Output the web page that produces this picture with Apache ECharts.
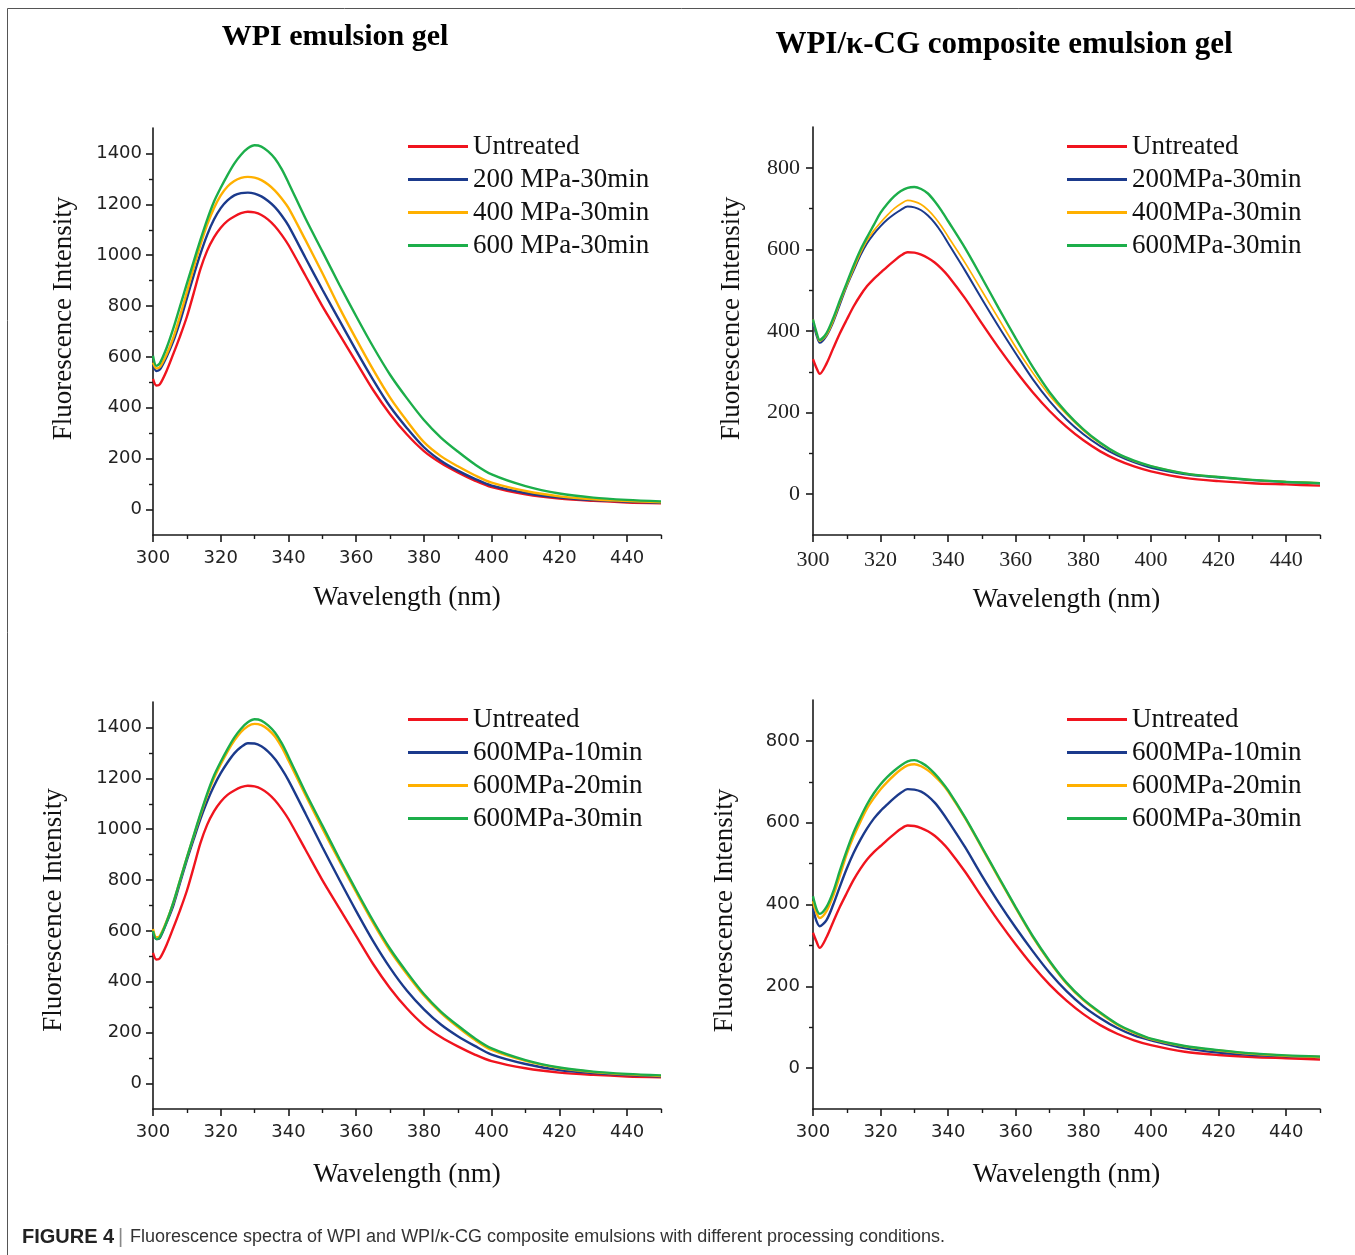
<!DOCTYPE html>
<html>
<head>
<meta charset="utf-8">
<script src="https://cdn.jsdelivr.net/npm/echarts@6/dist/echarts.min.js"></script>
<style>html,body{margin:0;padding:0;background:#fff}#c{width:1355px;height:1255px}</style>
</head>
<body>
<div id="c"></div>
<script>
// ---------------- data ----------------
const wavelength = [300,301,302,304,306,308,310,312,314,316,318,320,322,324,326,328,330,332,334,336,338,340,345,350,355,360,365,370,375,380,385,390,395,400,410,420,430,440,450];

// WPI emulsion gel, pressure series (top left)
const wpiUntreated = [514,488,492,545,612,682,758,850,945,1018,1070,1108,1135,1152,1165,1171,1168,1158,1140,1114,1080,1040,920,800,690,580,470,375,295,230,183,146,114,88,60,43,34,28,25];
const wpi200_30 = [570,545,550,600,662,740,830,920,1005,1080,1140,1185,1215,1235,1244,1246,1242,1231,1213,1189,1156,1116,990,865,745,625,510,405,320,245,192,153,121,94,65,47,37,31,27];
const wpi400_30 = [578,555,560,610,676,762,855,950,1040,1120,1185,1235,1270,1292,1304,1308,1305,1295,1278,1254,1223,1186,1060,930,795,670,550,440,348,265,210,170,135,106,73,52,40,33,29];
const wpi600_30 = [605,565,575,635,712,800,888,975,1060,1140,1210,1265,1315,1360,1395,1420,1432,1427,1408,1380,1338,1285,1145,1015,885,760,640,530,437,352,283,228,178,138,92,63,47,38,32];

// WPI emulsion gel, time series (bottom left)
const wpiUntreatedT = [514,488,492,545,612,682,758,850,945,1018,1070,1108,1135,1152,1165,1171,1168,1158,1140,1114,1080,1040,920,800,690,580,470,375,295,230,183,146,114,88,60,43,34,28,25];
const wpi600_10 = [592,568,572,632,700,790,878,960,1040,1110,1170,1220,1262,1298,1323,1338,1337,1326,1305,1276,1237,1192,1062,930,802,678,560,455,365,292,232,186,148,114,77,53,41,33,28];
const wpi600_20 = [608,575,580,638,710,800,888,972,1055,1133,1200,1255,1305,1348,1382,1405,1414,1409,1392,1364,1322,1270,1135,1003,876,752,632,522,430,346,278,222,172,132,89,61,45,36,30];
const wpi600_30T = [600,568,575,635,712,800,888,975,1060,1140,1210,1265,1315,1360,1395,1420,1432,1427,1408,1380,1338,1285,1145,1015,885,760,640,530,437,352,283,228,178,138,92,63,47,38,32];

// WPI/k-CG composite emulsion gel, pressure series (top right)
const cgUntreated = [331,310,295,320,358,395,428,460,487,510,528,543,558,572,585,593,592,587,579,568,553,535,480,418,358,302,250,204,165,132,105,84,68,56,40,32,27,24,21];
const cg200_30 = [420,390,371,388,422,466,510,548,585,615,638,657,673,686,697,705,703,696,683,665,642,615,548,478,410,345,282,228,183,147,118,95,78,65,49,41,34,30,27];
const cg400_30 = [428,395,375,390,425,470,512,552,590,622,646,666,684,700,712,720,717,710,697,679,657,631,567,498,429,360,298,242,196,156,124,99,81,69,51,42,35,31,28];
const cg600_30 = [428,398,378,395,432,476,518,560,598,630,660,690,712,730,743,751,753,748,737,718,695,669,603,530,455,382,312,250,200,159,126,100,82,69,51,42,35,30,27];

// WPI/k-CG composite emulsion gel, time series (bottom right)
const cgUntreatedT = [331,310,294,320,358,395,428,460,487,510,528,543,558,572,585,593,592,587,579,568,553,535,480,418,358,302,250,204,165,132,105,84,68,56,40,32,27,24,21];
const cg600_10 = [390,360,347,362,400,445,488,526,558,586,610,629,645,660,673,682,681,676,665,649,628,604,540,470,404,343,286,233,188,151,122,98,80,68,49,38,32,29,27];
const cg600_20 = [408,380,367,384,422,472,524,566,602,635,660,682,700,716,730,740,743,738,728,714,697,676,611,538,464,391,321,260,207,166,134,106,86,71,53,43,35,30,27];
const cg600_30T = [420,390,377,394,432,484,532,576,612,645,672,694,712,727,740,750,753,747,736,720,701,679,613,540,466,393,323,262,209,168,136,108,88,72,54,44,36,31,28];

// legend names
const namesPressureWPI = ['Untreated','200 MPa-30min','400 MPa-30min','600 MPa-30min'];
const namesPressureCG = ['Untreated','200MPa-30min','400MPa-30min','600MPa-30min'];
const namesTime = ['Untreated','600MPa-10min','600MPa-20min','600MPa-30min'];

// tick values
const xMajorTicks = [300,320,340,360,380,400,420,440];
const xMinorTicks = [310,330,350,370,390,410,430,450];
const yMajorWPI = [0,200,400,600,800,1000,1200,1400];
const yMinorWPI = [100,300,500,700,900,1100,1300];
const yMajorCG = [0,200,400,600,800];
const yMinorCG = [100,300,500,700];

// ---------------- layout / style ----------------
const colors = ['#f0141e','#1b3a8c','#ffb000','#1cae4a'];
const panels = [
  {rect:{left:153, top:128, width:508, height:407}, yMax:1500, yMajor:yMajorWPI, yMinor:yMinorWPI,
   names:namesPressureWPI, series:[wpiUntreated,wpi200_30,wpi400_30,wpi600_30], widths:[2.4,2.4,2.4,2.4],
   labelFont:'DejaVu Sans', labelSize:18, yMargin:11, xGap:49, yGap:76, yPad:[0,0,0,26], legend:{left:408, top:133}},
  {rect:{left:813, top:127, width:507, height:408}, yMax:900, yMajor:yMajorCG, yMinor:yMinorCG,
   names:namesPressureCG, series:[cgUntreated,cg200_30,cg400_30,cg600_30], widths:[2.4,2.0,1.7,2.4],
   labelFont:'Liberation Serif', labelSize:22, yMargin:13, xGap:51, yGap:68, yPad:[0,0,0,25], legend:{left:1067, top:133}},
  {rect:{left:153, top:702, width:508, height:407}, yMax:1500, yMajor:yMajorWPI, yMinor:yMinorWPI,
   names:namesTime, series:[wpiUntreatedT,wpi600_10,wpi600_20,wpi600_30T], widths:[2.4,2.4,2.4,2.4],
   labelFont:'DejaVu Sans', labelSize:18, yMargin:11, xGap:52, yGap:86, yPad:[0,9,0,0], legend:{left:408, top:706}},
  {rect:{left:813, top:700, width:507, height:409}, yMax:900, yMajor:yMajorCG, yMinor:yMinorCG,
   names:namesTime, series:[cgUntreatedT,cg600_10,cg600_20,cg600_30T], widths:[2.4,2.4,2.4,2.4],
   labelFont:'DejaVu Sans', labelSize:18, yMargin:13, xGap:52, yGap:75, yPad:[0,12,0,0], legend:{left:1067, top:706}}
];

const axisColor = '#1a1a1a';
const grid = [], xAxis = [], yAxis = [], series = [], legend = [];

panels.forEach((p) => { grid.push(Object.assign({containLabel:false}, p.rect)); });
panels.forEach((p) => { grid.push(Object.assign({containLabel:false}, p.rect)); }); // overlay grids for minor ticks

const plain = (v) => String(v);

panels.forEach((p, i) => {
  const lblStyle = {fontFamily:p.labelFont, fontSize:p.labelSize, color:'#222', formatter:plain};
  xAxis.push({
    type:'value', gridIndex:i, min:300, max:450,
    axisLine:{show:true, onZero:false, lineStyle:{color:axisColor, width:1.6}},
    axisTick:{show:true, inside:false, length:7, customValues:xMajorTicks, lineStyle:{color:axisColor, width:1.6}},
    axisLabel:Object.assign({customValues:xMajorTicks, margin:14}, lblStyle),
    splitLine:{show:false},
    name:'Wavelength (nm)', nameLocation:'middle', nameGap:p.xGap,
    nameTextStyle:{fontFamily:'Liberation Serif', fontSize:27, color:'#111'}
  });
  yAxis.push({
    type:'value', gridIndex:i, min:-100, max:p.yMax,
    axisLine:{show:true, onZero:false, lineStyle:{color:axisColor, width:1.6}},
    axisTick:{show:true, inside:false, length:7, customValues:p.yMajor, lineStyle:{color:axisColor, width:1.6}},
    axisLabel:Object.assign({customValues:p.yMajor, margin:p.yMargin}, lblStyle),
    splitLine:{show:false},
    name:'Fluorescence Intensity', nameLocation:'middle', nameGap:p.yGap,
    nameTextStyle:{fontFamily:'Liberation Serif', fontSize:27, color:'#111', padding:p.yPad}
  });
});
panels.forEach((p, i) => {
  xAxis.push({
    type:'value', gridIndex:i+4, min:300, max:450,
    axisLine:{show:false, onZero:false},
    axisTick:{show:true, inside:false, length:4, customValues:xMinorTicks, lineStyle:{color:axisColor, width:1.4}},
    axisLabel:{show:false}, splitLine:{show:false}
  });
  yAxis.push({
    type:'value', gridIndex:i+4, min:-100, max:p.yMax,
    axisLine:{show:false, onZero:false},
    axisTick:{show:true, inside:false, length:4, customValues:p.yMinor, lineStyle:{color:axisColor, width:1.4}},
    axisLabel:{show:false}, splitLine:{show:false}
  });
});

panels.forEach((p, i) => {
  p.series.forEach((vals, k) => {
    series.push({
      type:'line', name:p.names[k], xAxisIndex:i, yAxisIndex:i,
      data:wavelength.map((w, j) => [w, vals[j]]),
      showSymbol:false, symbol:'none', smooth:0.3,
      lineStyle:{color:colors[k], width:p.widths[k]}, itemStyle:{color:colors[k]},
      emphasis:{disabled:true}, silent:true, z:2+k
    });
  });
  legend.push({
    show:true, orient:'vertical', left:p.legend.left, top:p.legend.top,
    padding:0, itemGap:6, itemWidth:60, itemHeight:3, icon:'rect',
    selectedMode:false, data:p.names,
    textStyle:{fontFamily:'Liberation Serif', fontSize:27, lineHeight:27, color:'#111'}
  });
});

const chart = echarts.init(document.getElementById('c'), null, {renderer:'canvas'});
chart.setOption({
  animation:false,
  backgroundColor:'#ffffff',
  grid, xAxis, yAxis, series, legend,
  graphic:[
    {type:'rect', shape:{x:7.5, y:8.5, width:1400, height:1400}, style:{fill:'none', stroke:'#555', lineWidth:1}, silent:true},
    {type:'text', x:335, y:37, style:{text:'WPI emulsion gel', font:'bold 30px "Liberation Serif"', fill:'#000', align:'center', verticalAlign:'middle', textAlign:'center', textVerticalAlign:'middle'}},
    {type:'text', x:1004, y:45, style:{text:'WPI/κ-CG composite emulsion gel', font:'bold 31px "Liberation Serif"', fill:'#000', align:'center', verticalAlign:'middle', textAlign:'center', textVerticalAlign:'middle'}},
    {type:'text', x:22, y:1237, style:{text:'FIGURE 4', font:'bold 20px "Liberation Sans"', fill:'#222', verticalAlign:'middle', textVerticalAlign:'middle'}},
    {type:'text', x:118, y:1237, style:{text:'|', font:'20px "Liberation Sans"', fill:'#888', verticalAlign:'middle', textVerticalAlign:'middle'}},
    {type:'text', x:130, y:1237, style:{text:'Fluorescence spectra of WPI and WPI/κ-CG composite emulsions with different processing conditions.', font:'18px "Liberation Sans"', fill:'#333', verticalAlign:'middle', textVerticalAlign:'middle'}}
  ]
});
</script>
</body>
</html>
